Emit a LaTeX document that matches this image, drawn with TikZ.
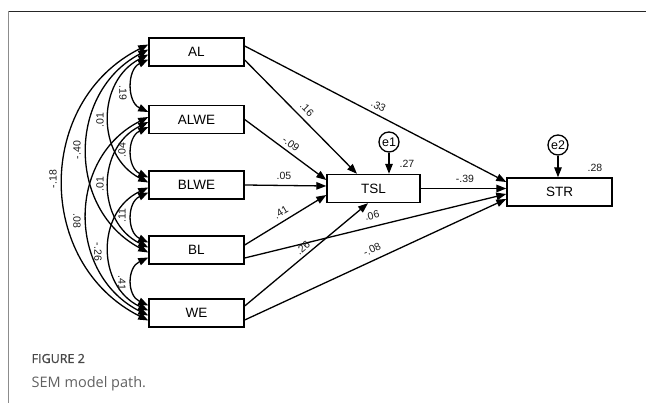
\documentclass[tikz,border=0pt]{standalone}
\usepackage{fontspec}
\setmainfont{Liberation Sans}
\newfontfamily\capfont{Open Sans}
\newfontfamily\capbold[FakeBold=1.2]{Open Sans}
\usetikzlibrary{arrows.meta,calc}
\begin{document}
\begin{tikzpicture}[x=1pt,y=-1pt,
  >={Triangle[length=10pt,width=7.5pt]},
  line width=1.3pt,
  var/.style={draw, line width=1.4pt, minimum height=28pt, inner sep=0pt, font=\fontsize{13.5}{13.5}\selectfont},
  err/.style={draw, circle, line width=1.3pt, minimum size=20pt, inner sep=0pt, font=\fontsize{12.5}{12.5}\selectfont},
  lab/.style={font=\fontsize{10.5}{10.5}\selectfont, text=black!90, inner sep=0pt},
  cov/.style={<->},
  path/.style={->}]
\useasboundingbox (0,0) rectangle (646,403);
% frame
\draw[line width=1.2pt, black!85] (8,11.5) -- (646,11.5);
\draw[line width=1.5pt, black!45] (8.5,11) -- (8.5,403);
% observed variables
\node[var, minimum width=95pt] (AL)   at (196.5,52)   {AL};
\node[var, minimum width=95pt] (ALWE) at (196.5,119.5) {ALWE};
\node[var, minimum width=95pt] (BLWE) at (196.5,185)  {BLWE};
\node[var, minimum width=95pt] (BL)   at (196.5,250)  {BL};
\node[var, minimum width=95pt] (WE)   at (196.5,313)  {WE};
\node[var, minimum width=93pt] (TSL)  at (373.5,188.5) {TSL};
\node[var, minimum width=105pt] (STR) at (559.5,192)  {STR};
\node[err] (e1) at (389,142) {e1};
\node[err] (e2) at (558,145) {e2};
% covariances
\draw[cov] ($(AL.west)+(0,7.5)$) .. controls +(-21.4,10) and +(-21.4,-10) .. ($(ALWE.west)+(0,-7.5)$);
\draw[cov] ($(ALWE.west)+(0,7.5)$) .. controls +(-21.4,10) and +(-21.4,-10) .. ($(BLWE.west)+(0,-7.5)$);
\draw[cov] ($(BLWE.west)+(0,7.5)$) .. controls +(-21.4,10) and +(-21.4,-10) .. ($(BL.west)+(0,-7.5)$);
\draw[cov] ($(BL.west)+(0,7.5)$) .. controls +(-21.4,10) and +(-21.4,-10) .. ($(WE.west)+(0,-7.5)$);
\draw[cov] ($(AL.west)+(0,2.5)$) .. controls +(-52,26.8) and +(-52,-26.8) .. ($(BLWE.west)+(0,-2.5)$);
\draw[cov] ($(ALWE.west)+(0,2.5)$) .. controls +(-52,25.7) and +(-52,-25.7) .. ($(BL.west)+(0,-2.5)$);
\draw[cov] ($(BLWE.west)+(0,2.5)$) .. controls +(-51.9,24.5) and +(-51.9,-24.5) .. ($(WE.west)+(0,-2.5)$);
\draw[cov] ($(AL.west)+(0,-2.5)$) .. controls +(-81.3,43.2) and +(-81.3,-43.2) .. ($(BL.west)+(0,2.5)$);
\draw[cov] ($(ALWE.west)+(0,-2.5)$) .. controls +(-81.4,41.1) and +(-81.4,-41.1) .. ($(WE.west)+(0,2.5)$);
\draw[cov] ($(AL.west)+(0,-7.5)$) .. controls +(-113.3,57) and +(-113.3,-57) .. ($(WE.west)+(0,7.5)$);
% covariance labels
\node[lab, rotate=-90] (c1)  at (123,93)  {.19};
\node[lab, rotate=90]  (c2)  at (122,150) {.04};
\node[lab, rotate=90]  (c3)  at (122,216) {.11};
\node[lab, rotate=-90] (c4)  at (122,283) {.41};
\node[lab, rotate=90]  (c5)  at (100,120) {.01};
\node[lab, rotate=90]  (c6)  at (100,184) {.01};
\node[lab, rotate=-90] (c7)  at (98,252)  {-.26};
\node[lab, rotate=90]  (c8)  at (77,150)  {-.40};
\node[lab, rotate=-90] (c9)  at (77,221)  {.08};
\node[lab, rotate=90]  (c10) at (53,179)  {-.18};
% regression paths
\draw[path] ($(AL.east)+(0,8)$) -- ($(TSL.north)+(-16.5,0)$);
\draw[path] ($(AL.east)+(0,-6)$) -- ($(STR.west)+(0,-10)$);
\draw[path] (ALWE.east) -- ($(TSL.west)+(0,-8.5)$);
\draw[path] (BLWE.east) -- ($(TSL.west)+(0,-2.5)$);
\draw[path] ($(BL.east)+(0,-5)$) -- ($(TSL.west)+(0,6.5)$);
\draw[path] ($(BL.east)+(0,8)$) -- ($(STR.west)+(0,2)$);
\draw[path] ($(WE.east)+(0,-7)$) -- ($(TSL.south)+(-5.5,0)$);
\draw[path] ($(WE.east)+(0,7)$) -- ($(STR.west)+(0,7)$);
\draw[path] (TSL.east) -- (TSL.east -| STR.west);
\draw[path] (e1.south) -- (e1.south |- TSL.north);
\draw[path] (e2.south) -- (e2.south |- STR.north);
% path labels
\node[lab, rotate=-45] (p1) at (307,109.5) {.16};
\node[lab, rotate=-28] (p2) at (378.5,106) {.33};
\node[lab, rotate=-36] (p3) at (291,144) {-.09};
\node[lab]             (p4) at (284,175.5) {.05};
\node[lab, rotate=31]  (p5) at (281,212.5) {.41};
\node[lab, rotate=40]  (p6) at (303,248) {.26};
\node[lab, rotate=14]  (p7) at (372,215.5) {.06};
\node[lab, rotate=25]  (p8) at (372,249.5) {-.08};
\node[lab]             (p9) at (465,178.5) {-.39};
\node[lab]             (r1) at (407,164) {.27};
\node[lab]             (r2) at (595,168) {.28};
% caption
\node[anchor=base west, inner sep=0pt, text=black!72, font=\capbold\fontsize{12.5}{12.5}\selectfont] (cap1) at (31,363) {FIGURE 2};
\node[anchor=base west, inner sep=0pt, text=black!62, font=\capfont\fontsize{14.5}{14.5}\selectfont] (cap2) at (31,388) {SEM model path.};
\end{tikzpicture}
\end{document}
